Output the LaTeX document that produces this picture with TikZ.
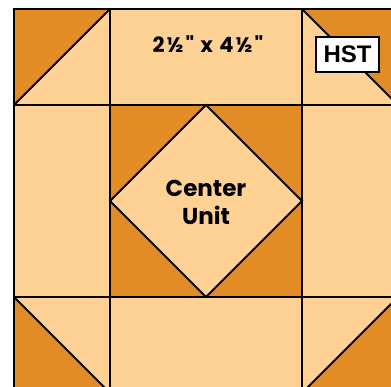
\documentclass[tikz,border=0pt]{standalone}
\usepackage{fontspec}
\newfontfamily\blockfont{Poppins}
\newfontfamily\tagfont{Liberation Sans}
\definecolor{quiltdark}{RGB}{226, 140, 38}
\definecolor{quiltlight}{RGB}{254, 209, 149}

\begin{document}
\begin{tikzpicture}[x=1pt, y=-1pt, line width=1.8pt]
    \useasboundingbox (0, 0) rectangle (391, 387);
    \clip (0, 0) rectangle (391, 387);
    \fill[quiltlight] (14, 9) rectangle (398, 393);
    % corner half square triangles
    \fill[quiltdark] (14, 9) -- (110, 9) -- (14, 105) -- cycle;
    \fill[quiltdark] (302, 9) -- (398, 9) -- (398, 105) -- cycle;
    \fill[quiltdark] (14, 297) -- (14, 393) -- (110, 393) -- cycle;
    \fill[quiltdark] (398, 297) -- (398, 393) -- (302, 393) -- cycle;
    % center unit
    \fill[quiltdark] (110, 105) rectangle (302, 297);
    \fill[quiltlight] (206, 105) -- (302, 201) -- (206, 297) -- (110, 201) -- cycle;
    % seams
    \draw (14, 9) rectangle (398, 393);
    \draw (110, 9) -- (110, 393) (302, 9) -- (302, 393) (14, 105) -- (398, 105) (14, 297) -- (398, 297);
    \draw (14, 105) -- (110, 9) (302, 9) -- (398, 105) (14, 297) -- (110, 393) (302, 393) -- (398, 297);
    \draw (206, 105) -- (302, 201) -- (206, 297) -- (110, 201) -- cycle;
    \node[font=\blockfont\bfseries\fontsize{21}{21}\selectfont\addfontfeature{LetterSpace=9}] (size) at (208, 44.5) {2½" x 4½"};
    \node[font=\blockfont\bfseries\fontsize{23}{28}\selectfont, align=center] (center) at (206, 202) {Center\\Unit};
    \node[draw, fill=white, line width=1.6pt, minimum width=63, minimum height=35, inner sep=0pt, font=\tagfont\bfseries\fontsize{24}{24}\selectfont] (hst) at (347.5, 54.5) {HST};
  \end{tikzpicture}
\end{document}
